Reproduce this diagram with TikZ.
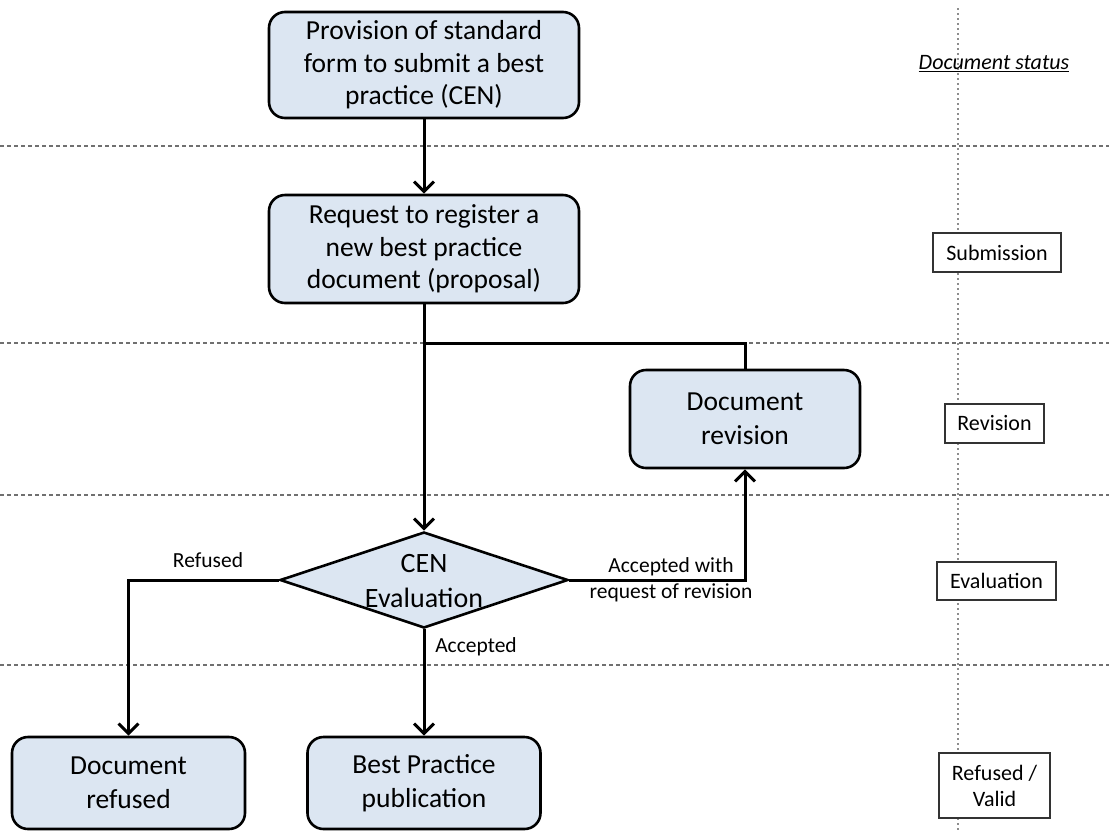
\documentclass[tikz,border=0pt]{standalone}
\usepackage{fontspec}
\setmainfont{Carlito}
\usetikzlibrary{shapes.geometric,arrows.meta}
\definecolor{boxblue}{HTML}{DCE6F2}
\definecolor{sepgray}{HTML}{707070}
\begin{document}
\begin{tikzpicture}[x=1pt,y=-1pt,
  proc/.style={draw=black, line width=2.6pt, rounded corners=16pt, fill=boxblue,
    align=center, inner sep=0pt, font=\fontsize{27.5}{32.5}\selectfont},
  proctwo/.style={proc, font=\fontsize{27.5}{34.5}\selectfont},
  decis/.style={draw=black, line width=2.6pt, fill=boxblue, diamond, inner sep=0pt,
    minimum width=288pt, minimum height=96pt},
  conn/.style={draw=black, line width=3pt, -{Straight Barb[length=10pt,width=20pt]}},
  plain/.style={draw=black, line width=3pt},
  sep/.style={draw=sepgray, line width=1.3pt, dash pattern=on 4pt off 3pt},
  vsep/.style={draw=sepgray!80, line width=1.3pt, dash pattern=on 2pt off 3pt},
  lbl/.style={font=\fontsize{21.5}{26}\selectfont, align=center, inner sep=0pt},
  stat/.style={draw=black!80, line width=1.3pt, fill=white, align=center, inner sep=0pt,
    font=\fontsize{22}{26}\selectfont}
]
\useasboundingbox (0,0) rectangle (1109,831);
\fill[white] (0,0) rectangle (1109,831);

% separators
\draw[sep] (0,146) -- (1109,146);
\draw[sep] (0,343) -- (1109,343);
\draw[sep] (0,495) -- (1109,495);
\draw[sep] (0,665) -- (1109,665);
\draw[vsep] (958,8) -- (958,831);

% process nodes
\node[proc, minimum width=310pt, minimum height=106pt] (prov) at (424,65)
  {Provision of standard\\form to submit a best\\practice (CEN)};
\node[proc, minimum width=310pt, minimum height=108pt] (req) at (424,249)
  {Request to register a\\new best practice\\document (proposal)};
\node[proctwo, minimum width=230pt, minimum height=98pt] (rev) at (745,419)
  {Document\\revision};
\node[decis] (eval) at (424,580) {};
\node[font=\fontsize{28}{35}\selectfont, align=center, inner sep=0pt] (evaltxt) at (424,581) {CEN\\Evaluation};
\node[proctwo, minimum width=233pt, minimum height=92pt] (refd) at (128.5,783)
  {Document\\refused};
\node[proctwo, minimum width=233pt, minimum height=92pt] (pub) at (424,783)
  {Best Practice\\publication};

% connectors
\coordinate (m) at (424,343);
\draw[conn] (prov) -- (req);
\draw[conn] (req) -- (eval);
\draw[plain] (rev.north) |- (m);
\draw[conn] (eval.east) -| (rev.south);
\draw[conn] (eval.west) -| (refd.north);
\draw[conn] (eval.south) -- (pub.north);

% connector labels
\node[lbl] (lref) at (208,560) {Refused};
\node[lbl] (lacc) at (476,647) {Accepted};
\node[lbl] (lrev) at (671,580) {Accepted with\\request of revision};

% status column
\node[font=\fontsize{22}{26}\selectfont\itshape, inner sep=0pt] (dstat) at (994,64) {\underline{Document status}};
\node[stat, minimum width=128pt, minimum height=39pt] (ssub) at (997,252.5) {Submission};
\node[stat, minimum width=99pt, minimum height=39pt] (srev) at (994.5,423.5) {Revision};
\node[stat, minimum width=119pt, minimum height=38pt] (seval) at (996.5,581) {Evaluation};
\node[stat, minimum width=111pt, minimum height=65pt] (sfin) at (994.5,785.5) {Refused /\\Valid};
\end{tikzpicture}
\end{document}
